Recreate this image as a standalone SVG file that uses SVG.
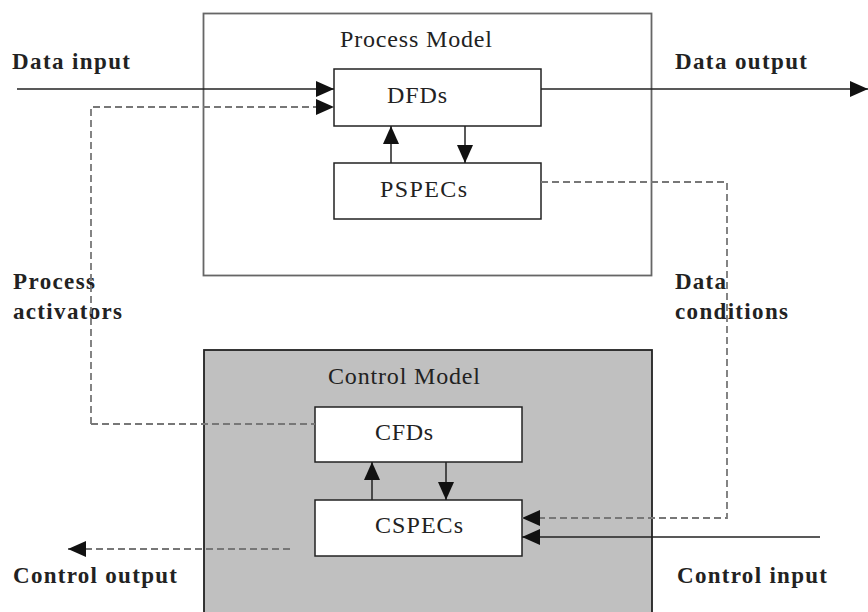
<svg xmlns="http://www.w3.org/2000/svg" width="868" height="612" viewBox="0 0 868 612">
<style>
.box{fill:#fff;stroke:#222;stroke-width:1.5}
.lbl{font-family:"Liberation Serif",serif;font-weight:bold;font-size:23px;fill:#222}
.txt{font-family:"Liberation Serif",serif;font-size:24px;fill:#222}
.solid{fill:none;stroke:#222;stroke-width:1.5}
.dash{fill:none;stroke:#777;stroke-width:1.8;stroke-dasharray:7,4}
</style>
<defs>
<marker id="ah" markerUnits="userSpaceOnUse" markerWidth="20" markerHeight="16" refX="18" refY="8" orient="auto">
<path d="M0,0 L18,8 L0,16 Z" fill="#111"/>
</marker>
</defs>
<rect width="868" height="612" fill="#fff"/>
<g id="process-model">
<rect x="203.5" y="13.5" width="448" height="262" fill="#fff" stroke="#666" stroke-width="1.8"/>
<text class="txt" x="340" y="47" textLength="152" lengthAdjust="spacing">Process Model</text>
</g>
<g id="control-model">
<rect x="204" y="350" width="448" height="270" fill="#c0c0c0" stroke="#222" stroke-width="1.8"/>
<text class="txt" x="328" y="384" textLength="152" lengthAdjust="spacing">Control Model</text>
</g>
<g id="dfds">
<rect class="box" x="334" y="69" width="207" height="57"/>
<text class="txt" x="387" y="103" textLength="60" lengthAdjust="spacing">DFDs</text>
</g>
<g id="pspecs">
<rect class="box" x="334" y="163" width="207" height="56"/>
<text class="txt" x="380" y="197" textLength="87" lengthAdjust="spacing">PSPECs</text>
</g>
<g id="cfds">
<rect class="box" x="315" y="407" width="207" height="55"/>
<text class="txt" x="375" y="440" textLength="58" lengthAdjust="spacing">CFDs</text>
</g>
<g id="cspecs">
<rect class="box" x="315" y="500" width="207" height="56"/>
<text class="txt" x="375" y="533" textLength="88" lengthAdjust="spacing">CSPECs</text>
</g>
<g id="labels">
<text class="lbl" x="12" y="69" textLength="118" lengthAdjust="spacing">Data input</text>
<text class="lbl" x="675" y="69" textLength="132" lengthAdjust="spacing">Data output</text>
<text class="lbl" x="13" y="289" textLength="82" lengthAdjust="spacing">Process</text>
<text class="lbl" x="13" y="319" textLength="109" lengthAdjust="spacing">activators</text>
<text class="lbl" x="675" y="289" textLength="51" lengthAdjust="spacing">Data</text>
<text class="lbl" x="675" y="319" textLength="113" lengthAdjust="spacing">conditions</text>
<text class="lbl" x="13" y="583" textLength="164" lengthAdjust="spacing">Control output</text>
<text class="lbl" x="677" y="583" textLength="150" lengthAdjust="spacing">Control input</text>
</g>
<g id="connectors">
<line class="solid" x1="17" y1="89" x2="334" y2="89" marker-end="url(#ah)"/>
<polyline class="dash" points="91,424 91,107 334,107" marker-end="url(#ah)"/>
<line class="dash" x1="91" y1="424" x2="315" y2="424"/>
<line class="solid" x1="541" y1="89" x2="868" y2="89" marker-end="url(#ah)"/>
<line class="solid" x1="391" y1="163" x2="391" y2="126" marker-end="url(#ah)"/>
<line class="solid" x1="465" y1="126" x2="465" y2="163" marker-end="url(#ah)"/>
<polyline class="dash" points="541,182 727,182 727,518 522,518" marker-end="url(#ah)"/>
<line class="solid" x1="372" y1="500" x2="372" y2="462" marker-end="url(#ah)"/>
<line class="solid" x1="446" y1="462" x2="446" y2="500" marker-end="url(#ah)"/>
<line class="solid" x1="820" y1="537" x2="522" y2="537" marker-end="url(#ah)"/>
<line class="dash" x1="290" y1="549" x2="68" y2="549" marker-end="url(#ah)"/>
</g>
</svg>
